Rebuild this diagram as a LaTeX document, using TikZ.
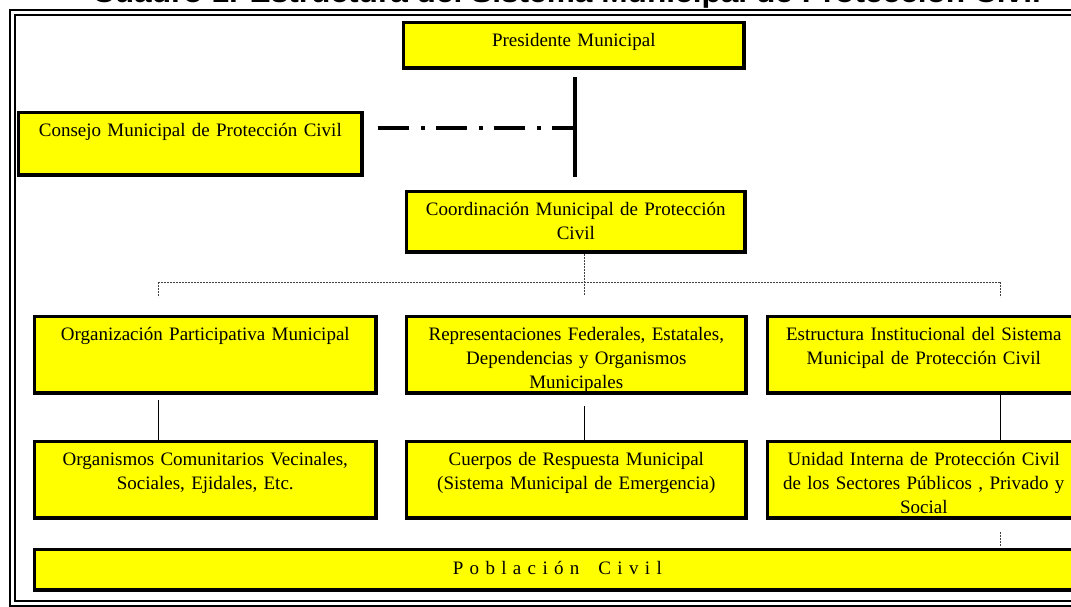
\documentclass[tikz,border=0pt]{standalone}
\usepackage{fontspec}
\usepackage{graphicx}
\setmainfont{Liberation Serif}
\newfontfamily\titlefont{Liberation Sans}
\usetikzlibrary{positioning}
\definecolor{boxyellow}{RGB}{255,255,0}
\tikzset{
  box/.style={draw, line width=3.6pt, fill=boxyellow, align=center, inner sep=0pt,
    anchor=north west, text height=24.25pt, font=\fontsize{19}{24}\selectfont},
  eje/.style={line width=3.5pt},
  rayapunto/.style={line width=3.5pt, dash pattern=on 31pt off 12pt on 4pt off 11pt},
  enlace/.style={line width=1pt},
  punteado/.style={line width=0.9pt, black!75, dash pattern=on 2pt off 1pt}
}

\begin{document}
\begin{tikzpicture}[x=1pt,y=-1pt]
\useasboundingbox (0,0) rectangle (1071,606);
\node[anchor=base, inner sep=0pt, font=\titlefont\bfseries\fontsize{28}{30}\selectfont] (titulo) at (566.5,2)
  {\scalebox{1.13}[1]{Cuadro 1. Estructura del Sistema Municipal de Protección Civil}};
\draw[double, double distance=3pt, line width=2pt] (12,12.75) rectangle (1087,603);

\node[box, text width=340.5pt, text depth=21.25pt] (pres) at (401.75,20.75) {Presidente Municipal};
\node[box, text width=343.5pt, text depth=38.25pt] (consejo) at (16.75,110.75) {Consejo Municipal de Protección Civil};
\node[box, text width=338.5pt, text depth=36.25pt] (coord) at (404.75,189.75) {Coordinación Municipal de Protección\\Civil};

\node[box, text width=341.5pt, text depth=52.25pt] (org) at (32.75,314.75) {Organización Participativa Municipal};
\node[box, text width=339.5pt, text depth=52.25pt, right=26.9pt of org.north east, anchor=north west] (repr)
  {Representaciones Federales, Estatales,\\Dependencias y Organismos\\Municipales};
\node[box, text width=312.5pt, text depth=52.25pt, right=17.9pt of repr.north east, anchor=north west] (estr)
  {Estructura Institucional del Sistema\\Municipal de Protección Civil};

\node[box, text width=341.5pt, text depth=52.25pt, below=44.9pt of org.south west, anchor=north west] (comun)
  {Organismos Comunitarios Vecinales,\\Sociales, Ejidales, Etc.};
\node[box, text width=339.5pt, text depth=52.25pt, below=44.9pt of repr.south west, anchor=north west] (cuerpos)
  {Cuerpos de Respuesta Municipal\\(Sistema Municipal de Emergencia)};
\node[box, text width=312.5pt, text depth=52.25pt, below=44.9pt of estr.south west, anchor=north west] (unidad)
  {Unidad Interna de Protección Civil\\de los Sectores Públicos , Privado y\\Social};

\node[box, text width=1045.5pt, text height=24.75pt, text depth=15.75pt] (pob) at (32.75,547.75)
  {P o b l a c i ó n\ \ \ C i v i l};

\coordinate (junta) at (575,128);
\coordinate (busL) at (158,282);
\coordinate (busC) at (584,282);
\coordinate (busR) at (1000,282);

% presidente, consejo y coordinacion
\draw[eje] ([yshift=-7pt]pres.south -| junta) -- ([yshift=13pt]coord.north -| junta);
\draw[rayapunto] ([xshift=14pt]consejo.east |- junta) -- (junta);

% reparto punteado
\draw[punteado] (coord.south -| busC) -- ++(0,41);
\draw[punteado] (busL) -- (busR);
\draw[punteado] (busL) -- ++(0,15);
\draw[punteado] (busR) -- ++(0,15);

% columnas
\draw[enlace] ([yshift=-5pt]org.south -| busL) -- (comun.north -| busL);
\draw[enlace] ([yshift=-11pt]repr.south -| busC) -- (cuerpos.north -| busC);
\draw[enlace] (estr.south -| busR) -- (unidad.north -| busR);
\draw[punteado] ([yshift=-12pt]unidad.south -| busR) -- ([yshift=1pt]pob.north -| busR);
\end{tikzpicture}
\end{document}
